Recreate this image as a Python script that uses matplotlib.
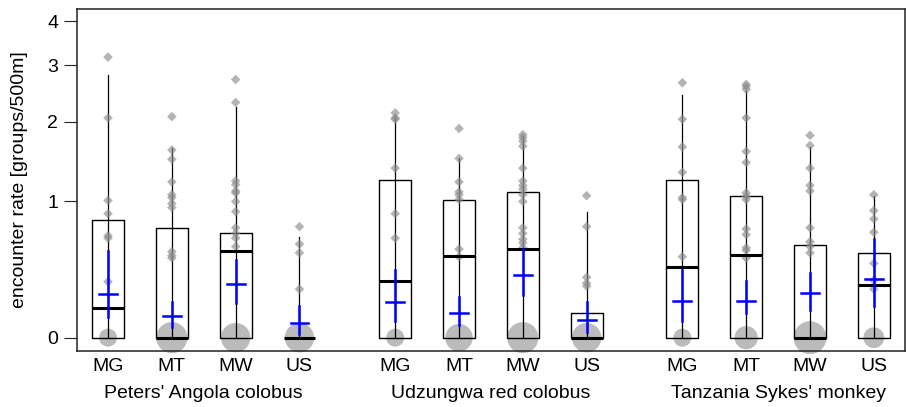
import numpy as np
import matplotlib
matplotlib.use("Agg")
import matplotlib.pyplot as plt
from matplotlib.patches import Rectangle
import matplotlib.transforms as mtransforms

plt.rcParams['font.family'] = ['Liberation Sans', 'DejaVu Sans']

groups = ["Peters' Angola colobus", "Udzungwa red colobus", "Tanzania Sykes' monkey"]
sites = ["MG", "MT", "MW", "US"]

# one value per (group, site), in order G1 MG..US, G2 MG..US, G3 MG..US
box_top = [0.82, 0.75, 0.70, 0.0, 1.23, 1.02, 1.10, 0.134, 1.23, 1.055, 0.60, 0.54]
median = [0.165, 0.0, 0.558, 0.0, 0.332, 0.514, 0.574, 0.0, 0.434, 0.527, 0.0, 0.31]
whisker_top = [2.80, 1.62, 2.24, 0.67, 2.09, 1.49, 1.79, 0.898, 2.44, 2.51, 1.64, 1.055]
mean = [0.247, 0.115, 0.315, 0.078, 0.200, 0.134, 0.379, 0.092, 0.208, 0.208, 0.256, 0.349]
ci_low = [0.109, 0.054, 0.193, 0.019, 0.087, 0.068, 0.241, 0.027, 0.087, 0.134, 0.149, 0.173]
ci_high = [0.553, 0.200, 0.488, 0.177, 0.409, 0.228, 0.571, 0.197, 0.409, 0.332, 0.390, 0.654]
zero_counts = [3, 9, 8, 8, 3, 7, 9, 8, 3, 5, 10, 4]

points = [
    [3.17, 2.06, 1.01, 0.88, 0.68, 0.66, 0.33],
    [2.08, 1.60, 1.48, 1.21, 1.07, 1.04, 0.98, 0.94, 0.55, 0.52, 0.50],
    [2.72, 2.31, 1.22, 1.18, 1.11, 1.09, 1.00, 0.90, 0.75, 0.70, 0.66, 0.59],
    [0.76, 0.61, 0.54, 0.28],
    [2.14, 2.06, 2.04, 1.37, 0.88, 0.66],
    [1.90, 1.49, 1.21, 1.10, 1.07, 1.02, 0.57, 0.51],
    [1.81, 1.77, 1.72, 1.65, 1.37, 1.22, 1.17, 1.13, 1.07, 1.00, 0.75, 0.70, 0.65, 0.62, 0.58],
    [1.06, 0.76, 0.36, 0.32, 0.30],
    [2.66, 2.04, 1.64, 1.32, 1.04, 1.02, 0.51],
    [2.63, 2.59, 2.54, 2.06, 1.58, 1.44, 1.09, 1.055, 1.02, 0.74, 0.69, 0.58, 0.56, 0.50],
    [1.80, 1.66, 1.37, 1.17, 1.11, 0.75, 0.63, 0.59, 0.54],
    [1.07, 0.91, 0.83, 0.71, 0.46, 0.34, 0.28],
]

yticks = [0, 1, 2, 3, 4]
ylabel = "encounter rate [groups/500m]"

fig = plt.figure(figsize=(9.06, 4.07), dpi=100)
ax = fig.add_axes([0.085, 0.1376, 0.914, 0.8403])
ax.set_yscale('function', functions=(np.log1p, np.expm1))

positions = []
for g in range(len(groups)):
    for i in range(len(sites)):
        positions.append(1 + g * 4.5 + i)

bw = 0.5
cw = 0.14
for k, x in enumerate(positions):
    # zero circle
    ax.scatter([x], [0], s=56 * zero_counts[k], color='#b0b0b0', alpha=0.85,
               edgecolors='none', zorder=1, clip_on=False)
    # box
    if box_top[k] > 0:
        ax.add_patch(Rectangle((x - bw / 2, 0), bw, box_top[k], fill=False,
                               edgecolor='black', linewidth=1.0, zorder=3))
    # whisker line
    ax.plot([x, x], [0, whisker_top[k]], color='black', lw=0.9, zorder=3)
    # data points
    ax.scatter([x] * len(points[k]), points[k], marker='D', s=24,
               color='#8c8c8c', alpha=0.65, edgecolors='none', zorder=4)
    # median
    ax.plot([x - bw / 2, x + bw / 2], [median[k], median[k]], color='black',
            lw=2.2, zorder=5, solid_capstyle='butt')
    # mean and CI
    ax.plot([x, x], [ci_low[k], ci_high[k]], color='#0000ff', lw=1.8, zorder=6)
    ax.plot([x - cw, x + cw], [mean[k], mean[k]], color='#0000ff', lw=1.8, zorder=6)

ax.set_xlim(0.514, 13.49)
ax.set_ylim(-0.0655, 4.327)
ax.set_yticks(yticks)
ax.set_yticklabels([str(t) for t in yticks])
ax.set_xticks(positions)
ax.set_xticklabels(sites * len(groups))
ax.tick_params(axis='x', length=0, pad=5, labelsize=14)
ax.tick_params(axis='y', length=9.5, width=0.8, pad=4, labelsize=14, color='#222222')
ax.set_ylabel(ylabel, fontsize=14, labelpad=14)
for s in ax.spines.values():
    s.set_linewidth(1.1)
    s.set_color('#222222')

trans = mtransforms.blended_transform_factory(ax.transData, fig.transFigure)
for g, name in enumerate(groups):
    xc = np.mean(positions[g * 4:(g + 1) * 4])
    ax.text(xc, 0.034, name, transform=trans, ha='center', va='center', fontsize=14)

fig.savefig("out.png", dpi=100)
